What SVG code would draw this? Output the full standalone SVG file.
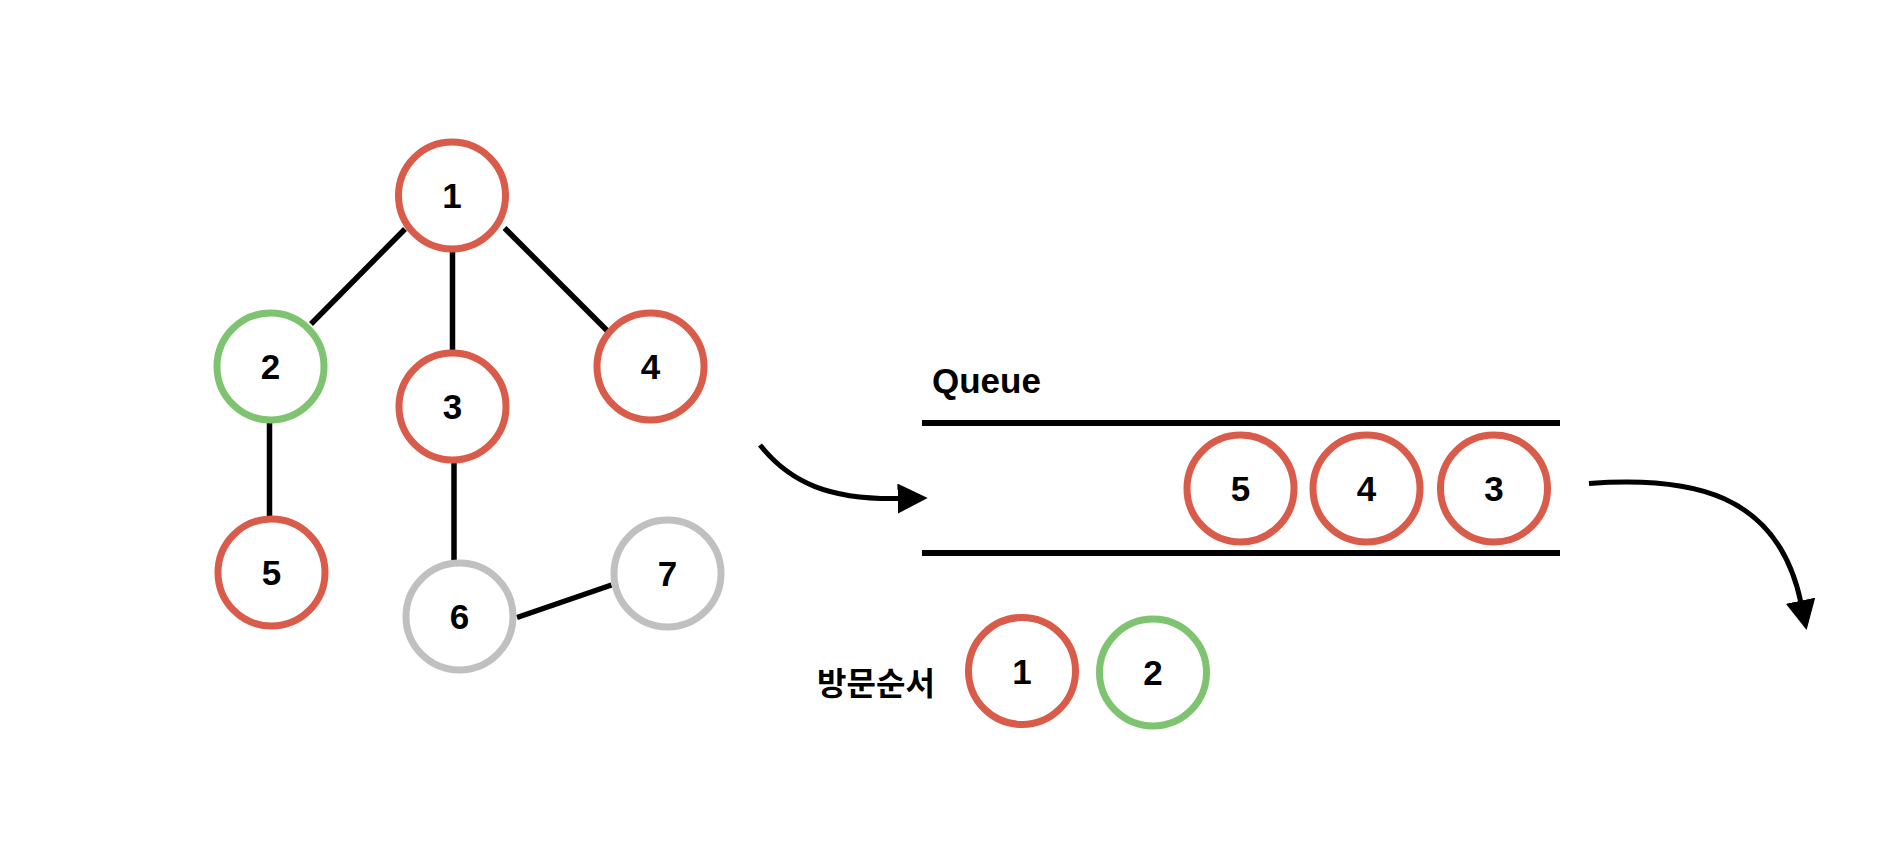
<svg xmlns="http://www.w3.org/2000/svg" width="1878" height="864" viewBox="0 0 1878 864">
  <style>
    .red{fill:#ffffff;stroke:#d95b4a;stroke-width:7}
    .green{fill:#ffffff;stroke:#7ec470;stroke-width:7}
    .gray{fill:#ffffff;stroke:#c0c0c0;stroke-width:7}
    .lbl{font-family:"Liberation Sans",Arial,sans-serif;font-weight:bold;font-size:35px;fill:#000;text-anchor:middle}
    .edge{stroke:#000;stroke-width:5.5;fill:none}
    .arrow{stroke:#000;stroke-width:5;fill:none}
    .qline{stroke:#000;stroke-width:6}
  </style>
  <defs>
    <marker id="ah" markerUnits="userSpaceOnUse" markerWidth="30" markerHeight="30" viewBox="0 0 26 26" refX="2" refY="13" orient="auto">
      <path d="M0,0 L26,13 L0,26 Z" fill="#000"/>
    </marker>
  </defs>
  <rect width="1878" height="864" fill="#ffffff"/>

  <g id="connectors">
    <line class="edge" x1="405" y1="229" x2="311" y2="324"/>
    <line class="edge" x1="452.5" y1="250" x2="452.5" y2="350"/>
    <line class="edge" x1="504.5" y1="228" x2="608.5" y2="332"/>
    <line class="edge" x1="269.5" y1="422" x2="269.5" y2="523"/>
    <line class="edge" x1="454" y1="463" x2="454" y2="563"/>
    <line class="edge" x1="517" y1="617.5" x2="611.5" y2="585"/>
    <path class="arrow" d="M760,445 C790,483 830,500 900,498.5" marker-end="url(#ah)"/>
    <path class="arrow" d="M1589,483.5 C1690,476 1778,492 1801,603" marker-end="url(#ah)"/>
  </g>

  <g id="node-1"><circle class="red" cx="452" cy="195.5" r="53.5"/><text class="lbl" x="452" y="208">1</text></g>
  <g id="node-2"><circle class="green" cx="270.5" cy="366.5" r="53.5"/><text class="lbl" x="270.5" y="379">2</text></g>
  <g id="node-3"><circle class="red" cx="452.5" cy="406.5" r="53.5"/><text class="lbl" x="452.5" y="419">3</text></g>
  <g id="node-4"><circle class="red" cx="650.5" cy="366.5" r="53.5"/><text class="lbl" x="650.5" y="379">4</text></g>
  <g id="node-5"><circle class="red" cx="271.5" cy="572.5" r="53.5"/><text class="lbl" x="271.5" y="585">5</text></g>
  <g id="node-6"><circle class="gray" cx="459.5" cy="616.5" r="53.5"/><text class="lbl" x="459.5" y="629">6</text></g>
  <g id="node-7"><circle class="gray" cx="667.5" cy="573.5" r="53.5"/><text class="lbl" x="667.5" y="586">7</text></g>

  <g id="queue">
    <text x="932" y="393" font-family="'Liberation Sans',Arial,sans-serif" font-weight="bold" font-size="35">Queue</text>
    <line class="qline" x1="922" y1="423" x2="1560" y2="423"/>
    <line class="qline" x1="922" y1="553" x2="1560" y2="553"/>
  </g>
  <g id="q-5"><circle class="red" cx="1240.5" cy="488.5" r="53.5"/><text class="lbl" x="1240.5" y="501">5</text></g>
  <g id="q-4"><circle class="red" cx="1366.5" cy="488.5" r="53.5"/><text class="lbl" x="1366.5" y="501">4</text></g>
  <g id="q-3"><circle class="red" cx="1494" cy="488.5" r="53.5"/><text class="lbl" x="1494" y="501">3</text></g>

  <g id="visit-order">
    <text x="876" y="695" text-anchor="middle" font-family="'Noto Sans CJK KR','Noto Sans',sans-serif" font-weight="bold" font-size="32">방문순서</text>
  </g>
  <g id="v-1"><circle class="red" cx="1022" cy="671" r="53.5"/><text class="lbl" x="1022" y="683.5">1</text></g>
  <g id="v-2"><circle class="green" cx="1153" cy="672.5" r="53.5"/><text class="lbl" x="1153" y="685">2</text></g>
</svg>
